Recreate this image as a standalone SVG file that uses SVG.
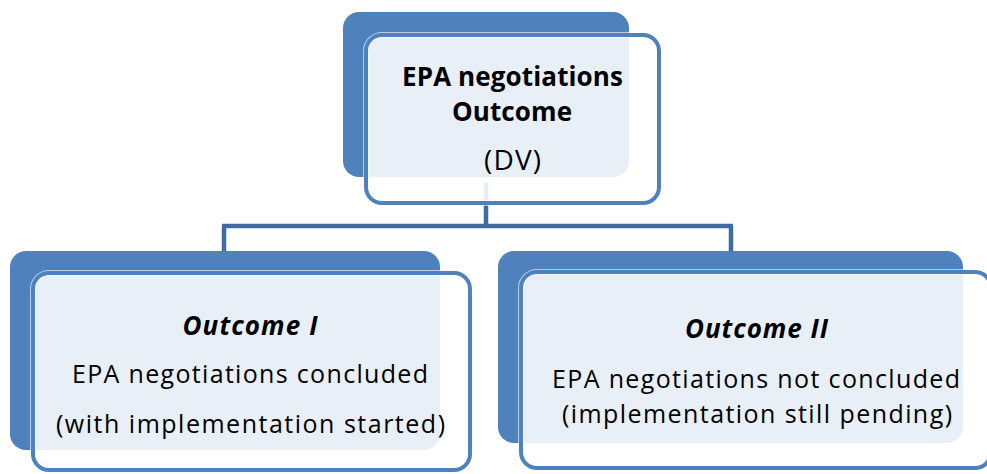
<svg xmlns="http://www.w3.org/2000/svg" width="987" height="474" viewBox="0 0 987 474">
  <style>
    .back { fill: #4F81BD; }
    .halo { fill: none; stroke: #FFFFFF; stroke-width: 6; stroke-opacity: 0.6; }
    .front { fill: #FFFFFF; fill-opacity: 0.875; stroke: #4F81BD; stroke-width: 4; }
    .link { fill: none; stroke: #3F6BA0; stroke-width: 4.5; }
    text { font-family: "Open Sans", "Noto Sans", "Liberation Sans", sans-serif; fill: #000000; text-anchor: middle; font-variant-ligatures: none; }
    .title { font-weight: bold; font-size: 26px; }
    .sub { font-size: 28px; }
    .head { font-weight: bold; font-style: italic; font-size: 26px; }
    .body { font-size: 25px; }
  </style>

  <!-- tree connectors -->
  <g id="connectors">
    <path class="link" d="M486,183 V226 M222,226 H733 M224,226 V252 M731,226 V252"/>
  </g>

  <!-- top node -->
  <g id="node-dv">
    <rect class="back" x="343" y="12" width="286" height="165" rx="16"/>
    <rect class="halo" x="366" y="35" width="293" height="168" rx="16"/>
    <rect class="front" x="366" y="35" width="293" height="168" rx="16"/>
    <text class="title" x="512.5" y="86" textLength="221">EPA negotiations</text>
    <text class="title" x="512" y="121" textLength="120">Outcome</text>
    <text class="sub" x="512.5" y="170" textLength="57">(DV)</text>
  </g>

  <!-- bottom-left node -->
  <g id="node-outcome-1">
    <rect class="back" x="10" y="251" width="430" height="199" rx="16"/>
    <rect class="halo" x="33" y="273" width="437" height="197" rx="16"/>
    <rect class="front" x="33" y="273" width="437" height="197" rx="16"/>
    <text class="head" x="250" y="335" textLength="135">Outcome I</text>
    <text class="body" x="250" y="383" textLength="356">EPA negotiations concluded</text>
    <text class="body" x="250.5" y="433" textLength="389">(with implementation started)</text>
  </g>

  <!-- bottom-right node -->
  <g id="node-outcome-2">
    <rect class="back" x="498" y="251" width="465" height="192" rx="16"/>
    <rect class="halo" x="521" y="272" width="470" height="196" rx="16"/>
    <rect class="front" x="521" y="272" width="470" height="196" rx="16"/>
    <text class="head" x="756.5" y="338" textLength="143">Outcome II</text>
    <text class="body" x="756" y="388" textLength="408">EPA negotiations not concluded</text>
    <text class="body" x="757" y="423" textLength="390">(implementation still pending)</text>
  </g>
</svg>
